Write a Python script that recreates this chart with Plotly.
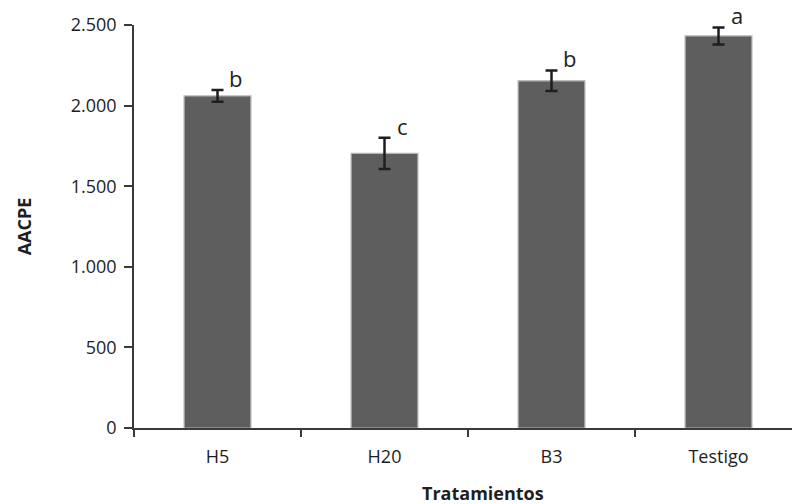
import plotly.graph_objects as go

categories = ["H5", "H20", "B3", "Testigo"]
values = [2060, 1704, 2154, 2432]
errors = [36, 97, 64, 53]
letters = ["b", "c", "b", "a"]
y_tickvals = [0, 500, 1000, 1500, 2000, 2500]
y_ticktext = ["0", "500", "1.000", "1.500", "2.000", "2.500"]

FONT = "Open Sans"
AXIS_COLOR = "#3a3a3a"
TEXT_COLOR = "#1e1e1e"

L, T, B = 134, 25, 504 - 428

fig = go.Figure()
fig.add_trace(go.Bar(
    x=categories,
    y=values,
    width=0.4,
    marker=dict(color="#5e5e5e", line=dict(color="#b4b4b4", width=1.2)),
    error_y=dict(type="data", array=errors, visible=True,
                 color="#1e1e1e", thickness=2.5, width=6),
    showlegend=False,
    hoverinfo="skip",
))

annotations = []
for c, v, e, l in zip(categories, values, errors, letters):
    annotations.append(dict(
        x=c, y=v + e, xref="x", yref="y", text=l, showarrow=False,
        xanchor="center", yanchor="bottom", xshift=18, yshift=-4,
        height=24, valign="bottom", borderpad=0,
        font=dict(family=FONT, size=22, color=TEXT_COLOR),
    ))
plot_w = 792 - L
plot_h = 504 - T - B
annotations.append(dict(
    x=(483 - L) / plot_w, y=-(493 - 428) / plot_h,
    xref="paper", yref="paper", text="<b>Tratamientos</b>",
    xanchor="center", yanchor="middle",
    showarrow=False, font=dict(family=FONT, size=18, color=TEXT_COLOR),
))

fig.update_layout(
    width=792, height=504,
    margin=dict(l=L, r=0, t=T, b=B),
    paper_bgcolor="white", plot_bgcolor="white",
    font=dict(family=FONT, size=18, color=TEXT_COLOR),
    annotations=annotations,
)

fig.update_xaxes(
    type="category", range=[-0.5, 3.44],
    showline=True, linecolor=AXIS_COLOR, linewidth=1.5,
    ticks="outside", tickson="boundaries", ticklen=7, tickwidth=1.5,
    tickcolor=AXIS_COLOR, showgrid=False, zeroline=False,
    tickfont=dict(family=FONT, size=18, color=TEXT_COLOR),
    ticklabelstandoff=12,
)
fig.update_yaxes(
    range=[0, 2500], tickvals=y_tickvals, ticktext=y_ticktext,
    showline=True, linecolor=AXIS_COLOR, linewidth=1.5,
    ticks="outside", ticklen=8, tickwidth=1.5, tickcolor=AXIS_COLOR,
    showgrid=False, zeroline=False, ticklabelstandoff=4,
    tickfont=dict(family=FONT, size=18, color=TEXT_COLOR),
    title=dict(text="<b>AACPE</b>", font=dict(family=FONT, size=18, color=TEXT_COLOR), standoff=34),
)

fig.write_html("out.html", config={"displayModeBar": False},
               post_script="document.body.style.margin='0';")
